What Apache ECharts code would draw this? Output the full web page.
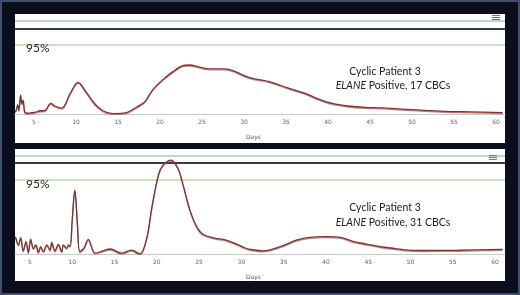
<!DOCTYPE html>
<html><head><meta charset="utf-8">
<script src="https://cdn.jsdelivr.net/npm/echarts@6/dist/echarts.min.js"></script>
<style>html,body{margin:0;padding:0;background:#0b0f1c;}#c{width:520px;height:295px;}</style>
</head><body><div id="c"></div>
<script>
// Top panel: Cyclic Patient 3, 17 CBCs
const topDays = [2.75,2.9,3.05,3.2,3.4,3.55,3.7,3.9,4.2,4.6,5.2,5.7,6.1,6.4,7.0,7.5,8.3,9.3,10.25,11.2,12.2,13.2,14.4,16.0,17.3,18.2,19.1,20.3,21.5,22.7,23.5,24.7,25.9,27.4,28.6,29.8,31.0,33.0,35.3,37.3,38.9,40.5,42.4,44.4,46.5,49.3,53.3,57.0,60.8];
const topVals = [3,6,13,5,26,14,19,3,1,1.5,2.5,4.5,4.5,5.5,14.5,11,8,28,43.5,30.5,14.5,4.5,0.5,2,10,17,33,47,58,66.5,67.5,64.5,62,62,60,54,49,44.5,35.5,28.5,20.5,14.5,11,9.2,8.3,6.5,4,3,2];
// Bottom panel: Cyclic Patient 3, 31 CBCs
const botDays = [3.25,3.34,3.62,3.9,4.2,4.53,4.8,5.08,5.4,5.7,5.98,6.27,6.58,6.98,7.37,7.57,7.96,8.35,8.75,8.94,9.34,9.55,9.75,10.0,10.3,10.6,10.9,11.4,11.9,12.7,13.6,14.5,15.85,17.0,18.0,18.8,19.4,20.2,20.8,21.7,22.5,23.1,23.9,24.7,25.5,26.9,28.1,29.6,30.4,31.0,32.6,34.6,36.6,38.1,40.1,41.7,43.3,44.8,46.4,48.2,49.8,51.7,55.7,60.9];
const botVals = [22,20,11.6,21,4,16,2,19,7,11.6,2,9.4,3,11.6,5,15,4,12.4,3,11.6,7.3,11.6,10,45,82,40,3,8,18.8,1,4,6.4,1,5,0,20,59,102,115,120.5,110,89,57,35.5,25,20.5,18,12,8,6,4,9.4,18,21.4,22.2,21.4,16,12.8,9.4,7,5,4.5,4.8,6];
const tickDays = [5,10,15,20,25,30,35,40,45,50,55,60];
const refLevels = {blue:[128,126], dark:[117,117], green:[95,95]};
const titleLine1 = 'Cyclic Patient 3';
const gene = 'ELANE';
const subTop = ' Positive, 17 CBCs';
const subBot = ' Positive, 31 CBCs';
const pctLabel = '95%';
const axisName = 'Days';

const chart = echarts.init(document.getElementById('c'), null, {renderer:'canvas'});
function xa(gi,min,max){return {type:'value',gridIndex:gi,min:min,max:max,
  axisLine:{show:true,lineStyle:{color:'#c8c8c8',width:1}},axisTick:{show:false},splitLine:{show:false},
  axisLabel:{customValues:tickDays,fontSize:6,color:'#666',fontFamily:'DejaVu Sans',margin:5}};}
function ya(gi,max){return {type:'value',gridIndex:gi,min:0,max:max,show:false,splitLine:{show:false}};}
function ser(i,days,vals,lv){return {type:'line',xAxisIndex:i,yAxisIndex:i,data:days.map((d,k)=>[d,vals[k]]),
  smooth:0.35,showSymbol:false,symbol:'none',z:5,
  lineStyle:{color:'#6a3a3c',width:1.3,shadowColor:'rgba(214,60,60,0.7)',shadowOffsetY:1,shadowBlur:0},
  markLine:{silent:true,symbol:'none',label:{show:false},animation:false,
    data:[{yAxis:refLevels.blue[lv],lineStyle:{color:'#9fc6d2',width:1.5,type:'solid'}},
          {yAxis:refLevels.dark[lv],lineStyle:{color:'#3c3c3c',width:2,type:'solid'}},
          {yAxis:refLevels.green[lv],lineStyle:{color:'#b4dca4',width:1.5,type:'solid'}}]}};}
function ham(x,y){return [0,2,4].map(o=>({type:'rect',shape:{x:x,y:y+o,width:8,height:1},style:{fill:'#777'},z:20}));}
function txt(x,y,t,opt){return Object.assign({type:'text',x:x,y:y,z:20,style:Object.assign({text:t,fill:'#222',font:'10.5px Lato',textVerticalAlign:'middle'},opt||{})});}
const rich = {i:{fontStyle:'italic',fontFamily:'Lato',fontSize:10.5,fill:'#222'},n:{fontFamily:'Lato',fontSize:10.5,fill:'#222'}};
chart.setOption({
  animation:false,
  backgroundColor:'#0b0f1c',
  grid:[{left:15,right:15,top:14,height:100},{left:15,right:15,top:149,height:105}],
  xAxis:[xa(0,2.738,61.07),xa(1,3.225,61.18)],
  yAxis:[ya(0,137.7),ya(1,134.8)],
  series:[ser(0,topDays,topVals,0),ser(1,botDays,botVals,1)],
  graphic:[
    {type:'rect',shape:{x:1,y:1,width:518,height:293},style:{fill:'none',stroke:'#3f4f72',lineWidth:2},z:0},
    {type:'rect',shape:{x:15,y:14,width:490,height:129},style:{fill:'#ffffff'},z:-10},
    {type:'rect',shape:{x:15,y:149,width:490,height:132},style:{fill:'#ffffff'},z:-10},
    ...ham(492,15),...ham(489,155),
    txt(26,48,pctLabel,{font:'12px Lato'}),
    txt(26,184,pctLabel,{font:'12px Lato'}),
    txt(385,72,titleLine1,{textAlign:'center'}),
    {type:'text',x:393,y:86,z:20,style:{text:'{i|'+gene+'}{n|'+subTop+'}',rich:rich,textAlign:'center',textVerticalAlign:'middle'}},
    txt(385,208,titleLine1,{textAlign:'center'}),
    {type:'text',x:393,y:223,z:20,style:{text:'{i|'+gene+'}{n|'+subBot+'}',rich:rich,textAlign:'center',textVerticalAlign:'middle'}},
    txt(246,137,axisName,{font:'6px "DejaVu Sans"',fill:'#555'}),
    txt(246,277,axisName,{font:'6px "DejaVu Sans"',fill:'#555'})
  ]
});
</script></body></html>
